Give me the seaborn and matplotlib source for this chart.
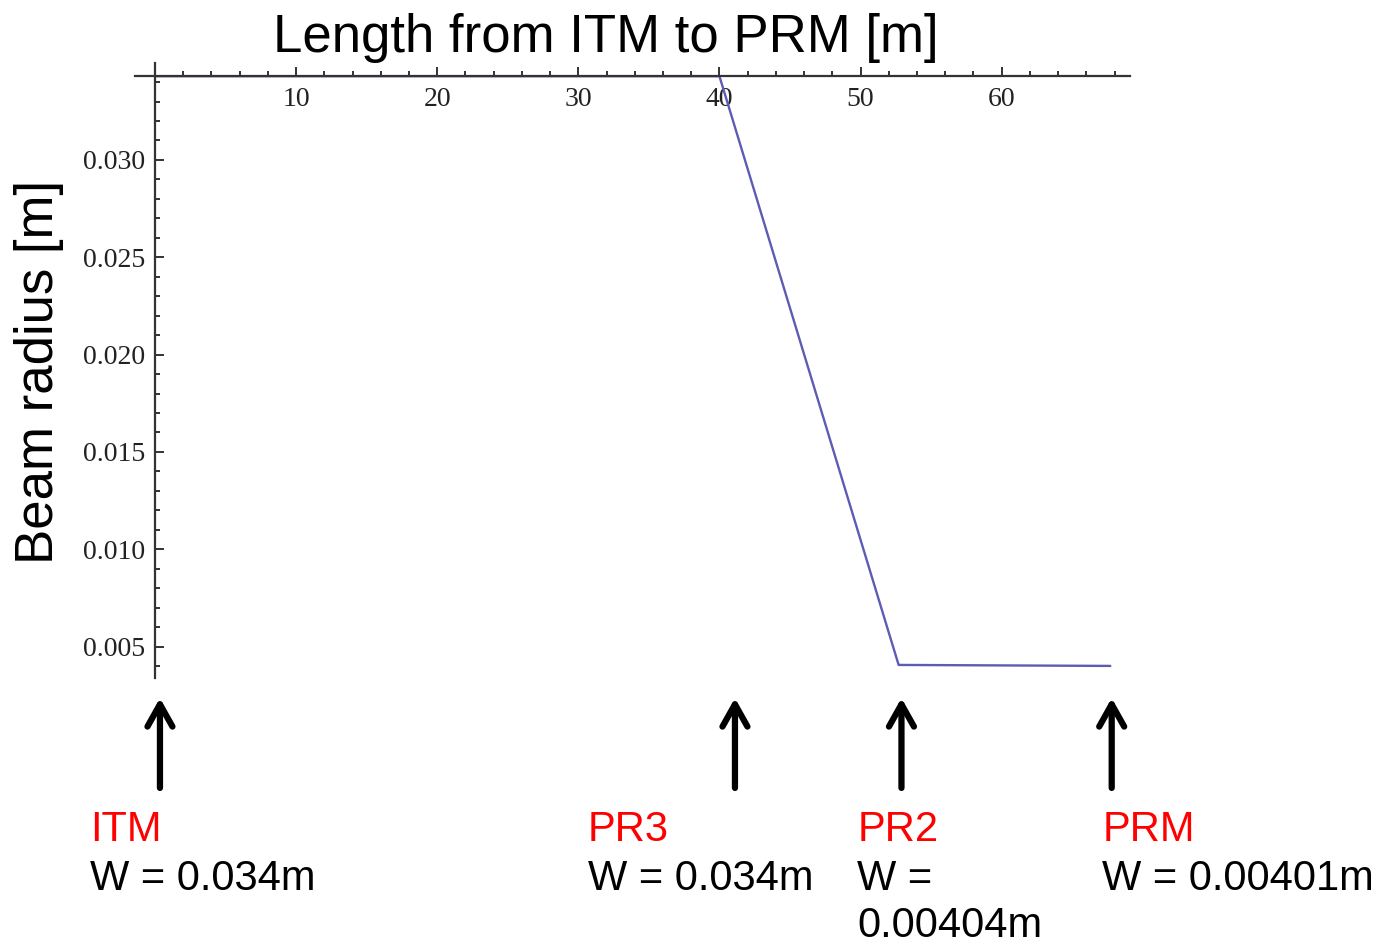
import matplotlib
matplotlib.use("Agg")
import matplotlib.pyplot as plt
import seaborn as sns
from matplotlib.ticker import MultipleLocator, FixedLocator, FormatStrFormatter

# beam radius along the path ITM -> PR3 -> PR2 -> PRM
length_m = [0.0, 40.0, 52.7, 67.7]
radius_m = [0.0343, 0.0343, 0.00406, 0.00401]

# mirror labels under the plot
mirrors = ["ITM", "PR3", "PR2", "PRM"]
mirror_w = ["W = 0.034m", "W = 0.034m", "W =\n0.00404m", "W = 0.00401m"]
arrow_x = [0.35, 41.1, 52.9, 67.8]
label_x = [0.065, 0.425, 0.62, 0.797]

sns.set_theme(style="white")
plt.rcParams["font.family"] = ["Liberation Sans", "DejaVu Sans"]

fig = plt.figure(figsize=(13.83, 9.44), dpi=100)
ax = fig.add_axes([0.0976, 0.2818, 0.7195, 0.6515])

sns.lineplot(x=length_m, y=radius_m, ax=ax, color="#5c5cb4", linewidth=1.7)

ax.set_xlim(-1.42, 69.1)
ax.set_ylim(0.00339, 0.03498)

# Mathematica-like axes crossing at (0, 0.0343)
for s in ["top", "right"]:
    ax.spines[s].set_visible(False)
ax.spines["left"].set_position(("data", 0))
ax.spines["bottom"].set_position(("data", 0.03433))
for s in ["left", "bottom"]:
    ax.spines[s].set_color("#333333")
    ax.spines[s].set_linewidth(1.6)

ax.xaxis.set_major_locator(FixedLocator([10, 20, 30, 40, 50, 60]))
ax.xaxis.set_minor_locator(FixedLocator([v for v in range(2, 69, 2) if v % 10]))
ax.yaxis.set_major_locator(MultipleLocator(0.005))
ax.yaxis.set_minor_locator(FixedLocator([v / 1000 for v in range(4, 35) if v % 5]))
ax.yaxis.set_major_formatter(FormatStrFormatter("%.3f"))

ax.tick_params(axis="both", which="both", direction="in", color="#333333",
               width=1.4, bottom=True, left=True)
ax.tick_params(axis="both", which="major", length=6.5)
ax.tick_params(axis="both", which="minor", length=3.5)
ax.tick_params(axis="x", which="major", pad=8)
ax.tick_params(axis="y", which="major", pad=7)
for lab in ax.get_xticklabels() + ax.get_yticklabels():
    lab.set_fontfamily("Liberation Serif")
    lab.set_fontsize(20)
    lab.set_color("#222222")

ax.set_xlabel("")
ax.set_ylabel("")
fig.text(0.438, 0.945, "Length from ITM to PRM [m]", fontsize=38,
         ha="center", va="baseline", color="black")
fig.text(0.028, 0.606, "Beam radius [m]", fontsize=38, rotation=90,
         ha="center", va="center", color="black")

for name, w, ax_x, lx in zip(mirrors, mirror_w, arrow_x, label_x):
    ax.annotate("", xy=(ax_x, 0.2606), xytext=(ax_x, 0.1653),
                xycoords=("data", "figure fraction"),
                textcoords=("data", "figure fraction"),
                arrowprops=dict(arrowstyle="->,head_length=0.8,head_width=0.45",
                                lw=4.5, color="black", mutation_scale=20,
                                shrinkA=0, shrinkB=0),
                annotation_clip=False)
    fig.text(lx, 0.1091, name, fontsize=30, color="red", ha="left", va="baseline")
    fig.text(lx, 0.090, w, fontsize=30, color="black", ha="left", va="top",
             linespacing=1.24)

fig.savefig("out.png", dpi=100)
